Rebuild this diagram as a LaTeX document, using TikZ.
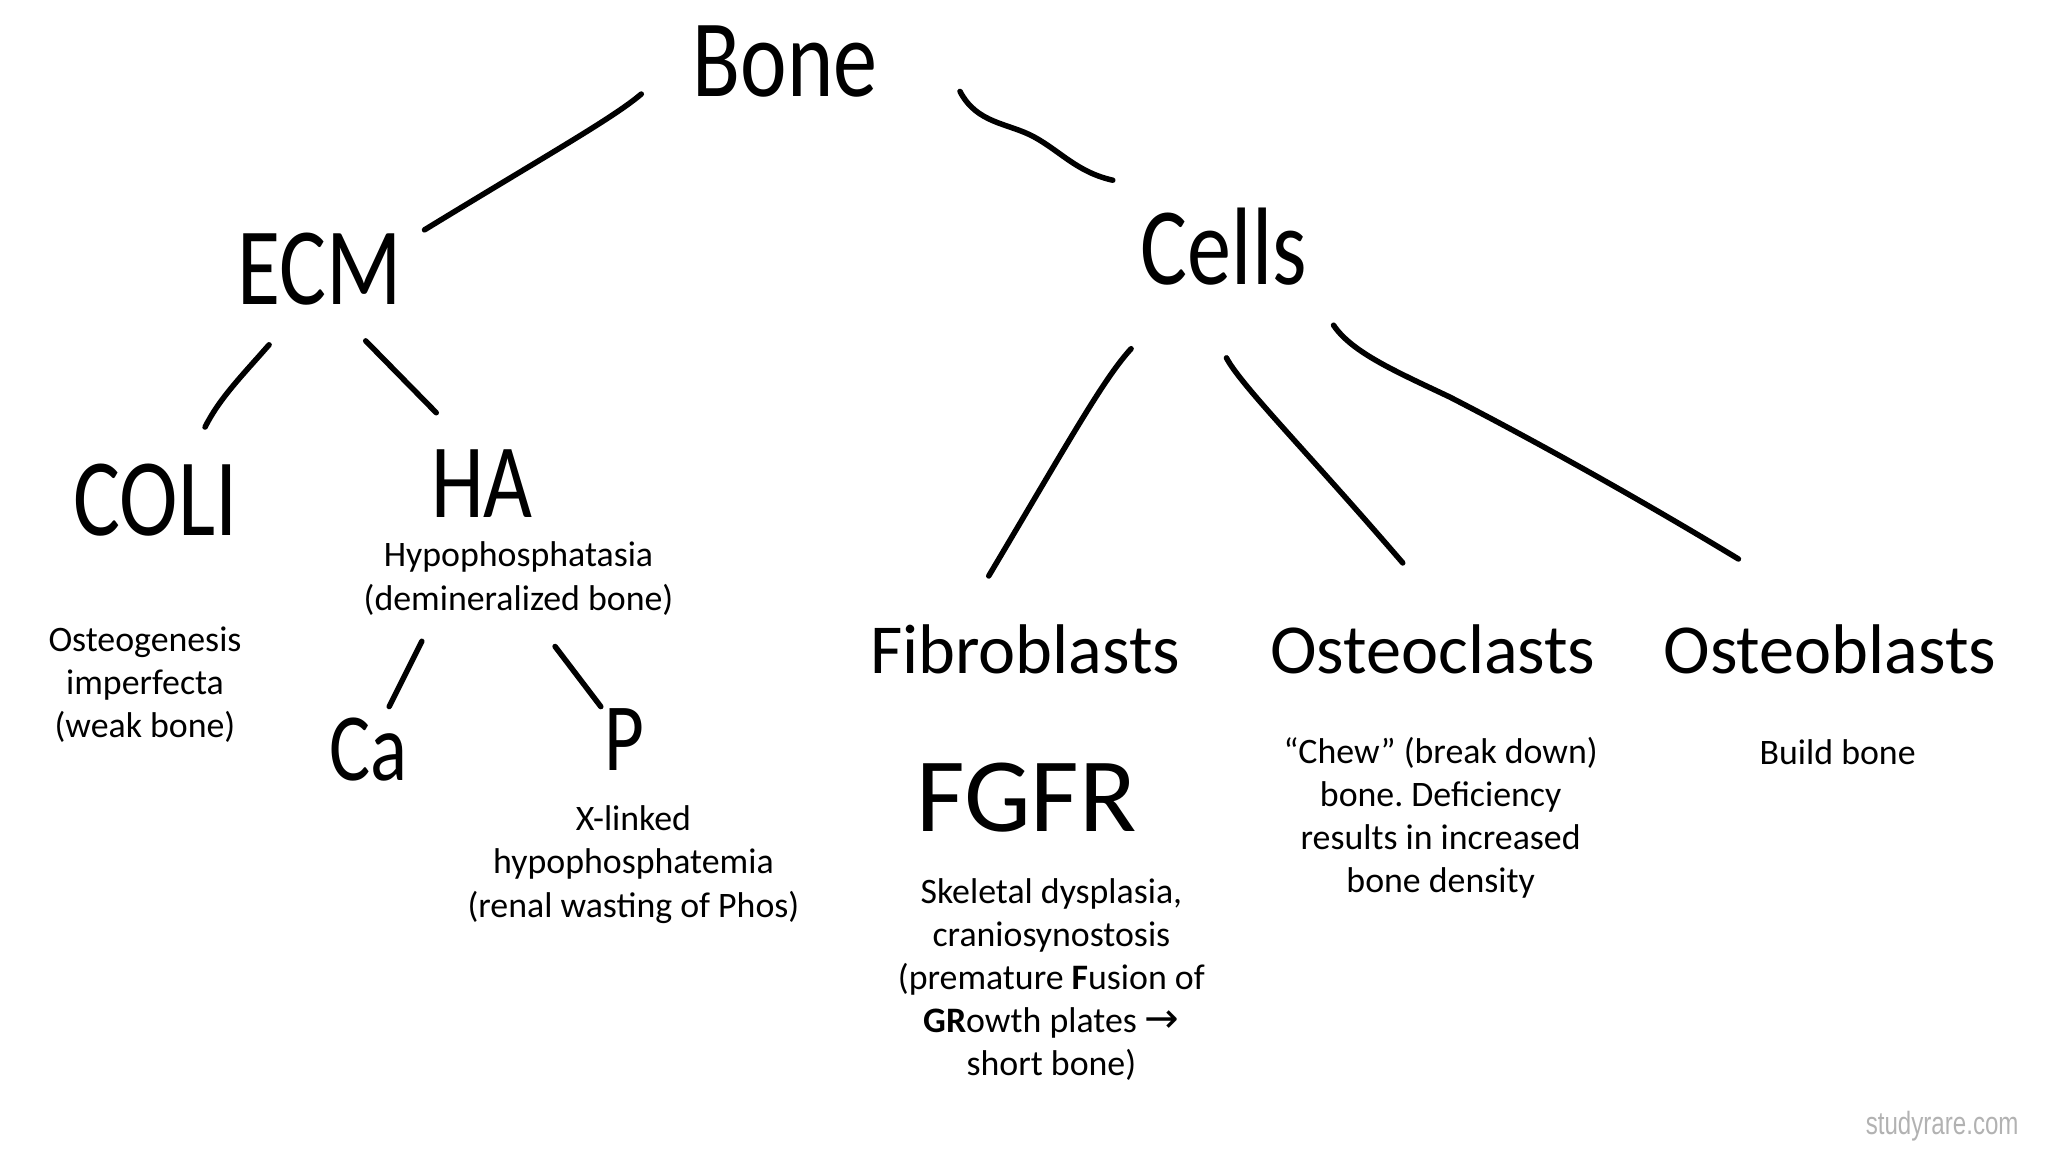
\documentclass[tikz,border=0pt]{standalone}
\usepackage{fontspec}
\setmainfont{Carlito}
\newfontfamily\handfont[FakeStretch=0.8]{Carlito}
\newfontfamily\arrowfont{DejaVu Sans}
\newfontfamily\markfont[FakeStretch=0.75]{Liberation Sans}
\definecolor{markgray}{RGB}{178,178,178}
\begin{document}
\frenchspacing
\begin{tikzpicture}[x=0.01cm,y=-0.01cm,
  link/.style={line width=1.2pt,line cap=round},
  hand/.style={inner sep=0pt,font=\handfont\fontsize{24}{24}\selectfont},
  celltype/.style={inner sep=0pt,font=\fontsize{15.3}{18}\selectfont},
  note/.style={inner sep=0pt,align=center,font=\fontsize{7.8}{9.4}\selectfont}]
\useasboundingbox (0,0) rectangle (1568,895);

% handwritten tree
\node [hand] (bone) at (601,47) {Bone};
\node [hand] (ecm) at (245,206) {ECM};
\node [hand] (cells) at (937,189) {Cells};
\node [hand] (coli) at (119,383) {COLI};
\node [hand,font=\handfont\fontsize{23}{23}\selectfont] (ha) at (369,370) {HA};
\node [hand,font=\handfont\fontsize{21}{21}\selectfont] (ca) at (282,574) {Ca};
\node [hand,font=\handfont\fontsize{21}{21}\selectfont] (p) at (478,566) {P};
\node [hand,font=\fontsize{23}{23}\selectfont] (fgfr) at (786,611) {FGFR};

\node [celltype] (fibro) at (785,497) {Fibroblasts};
\node [celltype] (clast) at (1097,497) {Osteoclasts};
\node [celltype] (blast) at (1401,497) {Osteoblasts};

\node [note] (oi) at (111,524) {Osteogenesis\\imperfecta\\(weak bone)};
\node [note] (hpp) at (397,443) {Hypophosphatasia\\(demineralized bone)};
\node [note] (xlh) at (485,662) {X-linked\\hypophosphatemia\\(renal wasting of Phos)};
\node [note] (skel) at (805,750) {Skeletal dysplasia,\\craniosynostosis\\(premature \textbf{F}usion of\\\textbf{GR}owth plates {\arrowfont\fontsize{9}{9.4}\selectfont →}\\short bone)};
\node [note] (chew) at (1103,626) {“Chew” (break down)\\bone. Deficiency\\results in increased\\bone density};
\node [note] (build) at (1407,576) {Build bone};

\node [inner sep=0pt,text=markgray,font=\markfont\fontsize{7}{8}\selectfont] (mark) at (1487,862) {studyrare.com};

% line ends
\coordinate (bone-l) at (491,72);
\coordinate (bone-r) at (735,70);
\coordinate (ecm-t) at (325,176);
\coordinate (ecm-l) at (206,264);
\coordinate (ecm-r) at (280,261);
\coordinate (coli-t) at (157,327);
\coordinate (ha-t) at (334,316);
\coordinate (ha-l) at (323,491);
\coordinate (ha-r) at (425,495);
\coordinate (ca-t) at (298,541);
\coordinate (p-t) at (460,541);
\coordinate (cells-t) at (852,138);
\coordinate (cells-l) at (866,267);
\coordinate (cells-m) at (939,274);
\coordinate (cells-r) at (1021,249);
\coordinate (fibro-t) at (757,441);
\coordinate (clast-t) at (1074,431);
\coordinate (blast-t) at (1331,428);

\draw [link] (bone-l) .. controls (470,90) and (420,118) .. (ecm-t);
\draw [link] (bone-r) .. controls (748,95) and (772,94) .. (792,105)
  .. controls (812,116) and (825,132) .. (cells-t);
\draw [link] (ecm-l) .. controls (185,288) and (168,305) .. (coli-t);
\draw [link] (ecm-r) -- (ha-t);
\draw [link] (ha-l) -- (ca-t);
\draw [link] (ha-r) -- (p-t);
\draw [link] (cells-l) .. controls (845,290) and (820,335) .. (fibro-t);
\draw [link] (cells-m) .. controls (950,295) and (1000,345) .. (clast-t);
\draw [link] (cells-r) .. controls (1035,270) and (1070,285) .. (1110,304)
  .. controls (1180,340) and (1260,385) .. (blast-t);

\end{tikzpicture}
\end{document}
